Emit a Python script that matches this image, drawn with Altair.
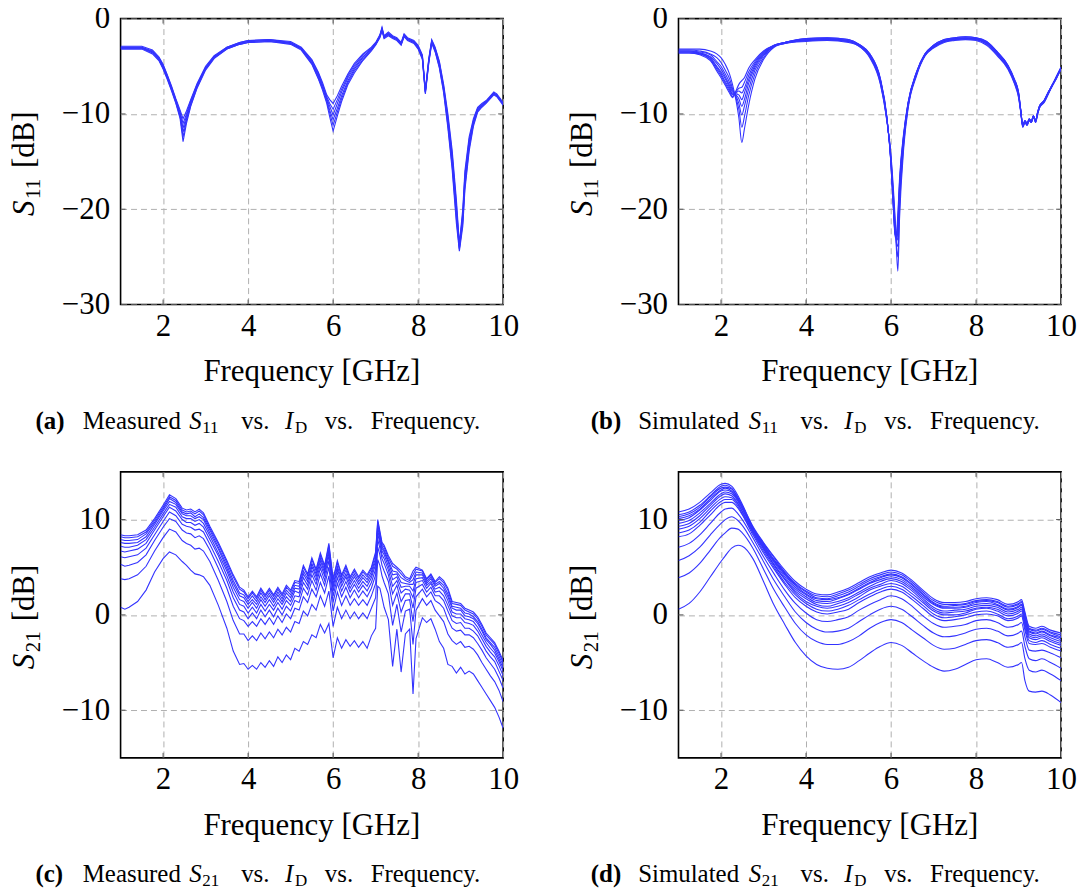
import altair as alt
import pandas as pd

FONT = "Liberation Serif"
BLUE = "#3333ff"
GRID = "#b0b0b0"
TICKC = "#555555"
W, H = 384, 287

# ---------------- data (one row per frequency point, one column per I_D step) ----------------
FREQ_A = [1.0, 1.25, 1.5, 1.75, 1.9, 2.0, 2.1, 2.2, 2.3, 2.4, 2.47, 2.55, 2.65, 2.8, 3.0, 3.2, 3.5, 3.8,
          4.0, 4.5, 5.0, 5.25, 5.5, 5.65, 5.75, 5.85, 5.92, 6.0, 6.1, 6.2, 6.35, 6.5, 6.7, 6.9, 7.0, 7.1,
          7.15, 7.2, 7.3, 7.4, 7.5, 7.6, 7.67, 7.75, 7.9, 8.0, 8.1, 8.17, 8.25, 8.32, 8.4, 8.5, 8.6, 8.7,
          8.8, 8.9, 8.97, 9.05, 9.1, 9.2, 9.3, 9.4, 9.5, 9.6, 9.7, 9.78, 9.85, 9.95, 10.0]
S11_MEAS = [
    [-2.9, -3.0, -3.0, -3.1, -3.1, -3.2], [-2.9, -3.0, -3.0, -3.1, -3.1, -3.2],
    [-2.9, -3.0, -3.0, -3.1, -3.1, -3.2], [-3.3, -3.4, -3.5, -3.5, -3.6, -3.7],
    [-4.0, -4.1, -4.2, -4.2, -4.3, -4.4], [-4.8, -4.9, -5.0, -5.1, -5.2, -5.3],
    [-5.9, -6.0, -6.1, -6.2, -6.3, -6.4], [-7.1, -7.2, -7.3, -7.4, -7.5, -7.6],
    [-8.4, -8.5, -8.6, -8.7, -8.8, -8.9], [-9.6, -9.8, -10.0, -10.1, -10.3, -10.5],
    [-10.5, -11.0, -11.5, -11.9, -12.4, -12.9], [-9.7, -10.0, -10.2, -10.5, -10.7, -11.0],
    [-8.5, -8.6, -8.8, -8.9, -9.1, -9.2], [-6.8, -6.9, -7.0, -7.1, -7.2, -7.3],
    [-5.0, -5.1, -5.2, -5.2, -5.3, -5.4], [-3.9, -4.0, -4.0, -4.1, -4.1, -4.2],
    [-3.0, -3.0, -3.1, -3.1, -3.2, -3.2], [-2.5, -2.5, -2.6, -2.6, -2.7, -2.7],
    [-2.3, -2.3, -2.4, -2.4, -2.5, -2.5], [-2.2, -2.2, -2.3, -2.3, -2.4, -2.4],
    [-2.4, -2.5, -2.5, -2.6, -2.6, -2.7], [-3.0, -3.1, -3.1, -3.2, -3.2, -3.3],
    [-4.3, -4.4, -4.5, -4.6, -4.7, -4.8], [-5.6, -5.7, -5.9, -6.0, -6.2, -6.3],
    [-6.7, -6.9, -7.0, -7.2, -7.3, -7.5], [-8.0, -8.2, -8.4, -8.5, -8.7, -8.9],
    [-8.5, -8.9, -9.2, -9.6, -9.9, -10.3], [-8.9, -9.5, -10.1, -10.6, -11.2, -11.8],
    [-8.1, -8.5, -8.9, -9.4, -9.8, -10.2], [-7.1, -7.4, -7.7, -8.1, -8.4, -8.7],
    [-5.8, -6.0, -6.2, -6.5, -6.7, -6.9], [-4.7, -4.9, -5.1, -5.3, -5.5, -5.7],
    [-3.7, -3.8, -4.0, -4.1, -4.3, -4.4], [-3.0, -3.1, -3.2, -3.2, -3.3, -3.4],
    [-2.5, -2.6, -2.6, -2.7, -2.7, -2.8], [-1.7, -1.8, -1.8, -1.9, -1.9, -2.0],
    [-0.9, -1.0, -1.1, -1.1, -1.2, -1.3], [-1.8, -1.9, -1.9, -2.0, -2.0, -2.1],
    [-1.4, -1.5, -1.6, -1.6, -1.7, -1.8], [-1.8, -1.9, -1.9, -2.0, -2.0, -2.1],
    [-2.0, -2.1, -2.1, -2.2, -2.2, -2.3], [-2.5, -2.6, -2.6, -2.7, -2.7, -2.8],
    [-1.6, -1.7, -1.7, -1.8, -1.8, -1.9], [-2.0, -2.1, -2.1, -2.2, -2.2, -2.3],
    [-2.3, -2.4, -2.4, -2.5, -2.5, -2.6], [-2.8, -2.9, -3.0, -3.0, -3.1, -3.2],
    [-3.8, -3.9, -4.0, -4.1, -4.2, -4.3], [-7.5, -7.6, -7.7, -7.7, -7.8, -7.9],
    [-4.2, -4.3, -4.4, -4.5, -4.6, -4.7], [-2.2, -2.3, -2.4, -2.4, -2.5, -2.6],
    [-3.0, -3.1, -3.2, -3.3, -3.4, -3.5], [-4.5, -4.6, -4.8, -4.9, -5.1, -5.2],
    [-6.9, -7.1, -7.3, -7.4, -7.6, -7.8], [-10.0, -10.3, -10.6, -10.9, -11.2, -11.5],
    [-13.8, -14.2, -14.6, -15.0, -15.4, -15.8], [-19.0, -19.5, -20.0, -20.5, -21.0, -21.5],
    [-23.6, -23.8, -23.9, -24.1, -24.2, -24.4], [-20.0, -20.4, -20.7, -21.1, -21.4, -21.8],
    [-16.0, -16.4, -16.8, -17.2, -17.6, -18.0], [-12.4, -12.7, -13.0, -13.3, -13.6, -13.9],
    [-10.5, -10.7, -10.8, -11.0, -11.1, -11.3], [-9.3, -9.4, -9.5, -9.6, -9.7, -9.8],
    [-8.9, -9.0, -9.1, -9.1, -9.2, -9.3], [-8.6, -8.7, -8.7, -8.8, -8.8, -8.9],
    [-8.1, -8.2, -8.2, -8.3, -8.3, -8.4], [-7.7, -7.8, -7.8, -7.9, -7.9, -8.0],
    [-7.9, -8.0, -8.0, -8.1, -8.1, -8.2], [-8.5, -8.6, -8.6, -8.7, -8.7, -8.8],
    [-8.8, -8.9, -8.9, -9.0, -9.0, -9.1],
]

FREQ_B = [1.0, 1.25, 1.5, 1.75, 1.9, 2.0, 2.1, 2.2, 2.27, 2.35, 2.42, 2.49, 2.55, 2.65, 2.8, 3.0, 3.25,
          3.5, 4.0, 4.5, 5.0, 5.25, 5.5, 5.75, 5.9, 6.0, 6.05, 6.1, 6.13, 6.16, 6.2, 6.3, 6.4, 6.6, 6.8,
          7.0, 7.25, 7.5, 7.75, 8.0, 8.25, 8.5, 8.75, 8.9, 9.0, 9.05, 9.1, 9.15, 9.2, 9.25, 9.3, 9.35,
          9.4, 9.45, 9.5, 9.6, 9.7, 9.8, 9.9, 10.0]
S11_SIM = [
    [-3.6, -3.6, -3.5, -3.5, -3.4, -3.4, -3.3, -3.2], [-3.6, -3.6, -3.5, -3.5, -3.4, -3.4, -3.3, -3.2],
    [-3.8, -3.7, -3.7, -3.6, -3.6, -3.5, -3.4, -3.2], [-4.4, -4.3, -4.2, -4.1, -4.0, -3.8, -3.7, -3.4],
    [-5.5, -5.3, -5.1, -5.0, -4.7, -4.5, -4.1, -3.7], [-6.2, -6.0, -5.8, -5.6, -5.3, -5.0, -4.6, -4.1],
    [-7.0, -6.8, -6.6, -6.3, -6.1, -5.8, -5.4, -4.8], [-7.8, -7.6, -7.4, -7.2, -7.0, -6.7, -6.3, -5.8],
    [-8.3, -8.2, -8.0, -7.9, -7.7, -7.5, -7.3, -6.9], [-7.6, -7.7, -7.8, -7.9, -8.0, -8.1, -8.3, -8.5],
    [-6.9, -7.3, -7.6, -8.0, -8.4, -8.9, -9.5, -10.4], [-6.5, -7.2, -7.8, -8.5, -9.2, -10.1, -11.4, -13.0],
    [-6.2, -6.7, -7.3, -7.8, -8.5, -9.2, -10.3, -11.6], [-5.2, -5.6, -6.0, -6.4, -6.8, -7.4, -8.1, -9.1],
    [-4.3, -4.5, -4.7, -4.9, -5.1, -5.4, -5.8, -6.3], [-3.4, -3.5, -3.6, -3.7, -3.8, -3.9, -4.1, -4.3],
    [-2.8, -2.8, -2.8, -2.9, -2.9, -2.9, -2.9, -3.0], [-2.5, -2.5, -2.5, -2.5, -2.5, -2.6, -2.6, -2.6],
    [-2.1, -2.1, -2.2, -2.2, -2.3, -2.3, -2.3, -2.4], [-2.0, -2.0, -2.1, -2.1, -2.2, -2.2, -2.2, -2.3],
    [-2.2, -2.2, -2.3, -2.3, -2.4, -2.4, -2.4, -2.5], [-2.7, -2.7, -2.7, -2.8, -2.8, -2.8, -2.9, -2.9],
    [-3.7, -3.7, -3.8, -3.8, -3.9, -3.9, -4.0, -4.1], [-6.3, -6.4, -6.4, -6.5, -6.6, -6.6, -6.8, -6.9],
    [-10.2, -10.3, -10.3, -10.4, -10.4, -10.5, -10.6, -10.7], [-15.4, -15.3, -15.2, -15.1, -15.0, -14.8, -14.6, -14.4],
    [-19.6, -19.4, -19.2, -19.0, -18.7, -18.4, -18.0, -17.5], [-23.0, -22.8, -22.7, -22.5, -22.3, -22.0, -21.7, -21.3],
    [-22.5, -22.7, -22.9, -23.1, -23.3, -23.6, -24.0, -24.5], [-20.5, -21.1, -21.7, -22.3, -23.0, -23.9, -25.0, -26.5],
    [-16.8, -17.2, -17.6, -18.1, -18.6, -19.2, -20.0, -21.0], [-11.9, -12.1, -12.2, -12.4, -12.6, -12.8, -13.1, -13.5],
    [-8.8, -8.9, -8.9, -9.0, -9.1, -9.2, -9.3, -9.5], [-5.6, -5.6, -5.7, -5.7, -5.8, -5.8, -5.9, -6.0],
    [-3.7, -3.7, -3.7, -3.8, -3.8, -3.8, -3.9, -3.9], [-2.8, -2.8, -2.9, -2.9, -3.0, -3.0, -3.0, -3.1],
    [-2.2, -2.2, -2.3, -2.3, -2.4, -2.4, -2.4, -2.5], [-2.0, -2.0, -2.1, -2.1, -2.2, -2.2, -2.2, -2.3],
    [-1.9, -1.9, -2.0, -2.0, -2.1, -2.1, -2.1, -2.2], [-2.0, -2.0, -2.1, -2.1, -2.2, -2.2, -2.2, -2.3],
    [-2.4, -2.4, -2.5, -2.5, -2.6, -2.6, -2.7, -2.8], [-3.5, -3.5, -3.6, -3.6, -3.7, -3.7, -3.8, -3.9],
    [-4.9, -4.9, -5.0, -5.0, -5.1, -5.1, -5.2, -5.3], [-6.3, -6.4, -6.4, -6.5, -6.5, -6.6, -6.7, -6.8],
    [-7.7, -7.8, -7.8, -7.9, -8.0, -8.0, -8.2, -8.3], [-9.5, -9.5, -9.6, -9.6, -9.6, -9.7, -9.7, -9.8],
    [-11.2, -11.2, -11.2, -11.3, -11.3, -11.3, -11.4, -11.4], [-10.7, -10.7, -10.7, -10.8, -10.8, -10.8, -10.9, -10.9],
    [-11.0, -11.0, -11.0, -11.1, -11.1, -11.1, -11.2, -11.2], [-10.5, -10.5, -10.5, -10.6, -10.6, -10.6, -10.7, -10.7],
    [-10.8, -10.8, -10.8, -10.8, -10.9, -10.9, -10.9, -10.9], [-10.2, -10.2, -10.2, -10.2, -10.3, -10.3, -10.3, -10.3],
    [-10.7, -10.7, -10.7, -10.8, -10.8, -10.8, -10.9, -10.9], [-9.8, -9.8, -9.8, -9.9, -9.9, -9.9, -10.0, -10.0],
    [-9.1, -9.1, -9.1, -9.2, -9.2, -9.2, -9.3, -9.3], [-8.6, -8.6, -8.6, -8.7, -8.7, -8.7, -8.8, -8.8],
    [-7.7, -7.7, -7.7, -7.8, -7.8, -7.8, -7.9, -7.9], [-6.9, -6.9, -6.9, -6.9, -7.0, -7.0, -7.0, -7.0],
    [-6.0, -6.0, -6.0, -6.1, -6.1, -6.1, -6.2, -6.2], [-5.1, -5.1, -5.1, -5.2, -5.2, -5.2, -5.3, -5.3],
]

FREQ_C = [1.0, 1.1, 1.2, 1.4, 1.6, 1.8, 2.0, 2.15, 2.3, 2.45, 2.55, 2.65, 2.75, 2.85, 2.95, 3.1, 3.3,
          3.5, 3.65, 3.8, 3.9, 4.0, 4.1, 4.2, 4.3, 4.4, 4.5, 4.6, 4.7, 4.8, 4.9, 5.0, 5.1, 5.2, 5.3,
          5.4, 5.5, 5.6, 5.7, 5.8, 5.9, 6.0, 6.1, 6.2, 6.3, 6.4, 6.5, 6.6, 6.7, 6.8, 6.9, 7.0, 7.05,
          7.1, 7.15, 7.2, 7.3, 7.4, 7.5, 7.6, 7.7, 7.8, 7.88, 7.95, 8.1, 8.2, 8.3, 8.4, 8.5, 8.6, 8.7,
          8.8, 8.9, 9.0, 9.1, 9.2, 9.3, 9.4, 9.5, 9.6, 9.7, 9.8, 9.9, 10.0]
S21_MEAS = [
    [8.4, 8.2, 7.9, 7.6, 7.2, 6.7, 6.1, 5.3, 3.8, 0.8], [8.3, 8.1, 7.8, 7.5, 7.1, 6.6, 6.0, 5.1, 3.7, 0.6],
    [8.3, 8.1, 7.8, 7.5, 7.1, 6.7, 6.1, 5.2, 3.8, 0.8], [8.4, 8.2, 7.9, 7.6, 7.3, 6.9, 6.3, 5.5, 4.2, 1.4],
    [8.9, 8.7, 8.5, 8.2, 7.9, 7.5, 7.0, 6.3, 5.1, 2.6], [10.1, 9.9, 9.7, 9.5, 9.2, 8.9, 8.4, 7.8, 6.7, 4.5],
    [11.5, 11.3, 11.1, 10.9, 10.6, 10.3, 9.8, 9.2, 8.1, 5.9], [12.6, 12.4, 12.2, 11.9, 11.6, 11.3, 10.8, 10.1, 9.0, 6.6],
    [12.2, 12.0, 11.8, 11.6, 11.3, 10.9, 10.4, 9.8, 8.7, 6.3], [11.2, 11.0, 10.8, 10.6, 10.3, 10.0, 9.5, 8.9, 7.8, 5.6],
    [11.0, 10.8, 10.6, 10.4, 10.1, 9.7, 9.3, 8.6, 7.5, 5.2], [11.1, 10.9, 10.7, 10.4, 10.1, 9.7, 9.2, 8.5, 7.3, 4.7],
    [10.8, 10.6, 10.3, 10.1, 9.8, 9.4, 8.9, 8.1, 6.9, 4.3], [11.1, 10.9, 10.6, 10.3, 10.0, 9.6, 9.0, 8.3, 7.0, 4.2],
    [10.7, 10.5, 10.2, 10.0, 9.6, 9.2, 8.7, 8.0, 6.7, 4.0], [9.3, 9.1, 8.9, 8.6, 8.3, 7.9, 7.4, 6.8, 5.6, 3.1],
    [7.6, 7.4, 7.1, 6.9, 6.5, 6.2, 5.6, 4.9, 3.6, 1.0], [5.7, 5.5, 5.2, 4.9, 4.6, 4.1, 3.6, 2.8, 1.4, -1.4],
    [4.2, 4.0, 3.6, 3.3, 2.9, 2.4, 1.8, 0.9, -0.6, -3.8], [2.9, 2.7, 2.3, 2.0, 1.6, 1.1, 0.5, -0.4, -2.0, -5.2],
    [2.6, 2.4, 2.1, 1.8, 1.4, 0.9, 0.3, -0.6, -2.0, -5.1], [1.9, 1.7, 1.4, 1.1, 0.7, 0.2, -0.4, -1.2, -2.7, -5.7],
    [2.5, 2.3, 2.0, 1.6, 1.3, 0.8, 0.2, -0.7, -2.2, -5.3], [1.9, 1.7, 1.4, 1.1, 0.7, 0.2, -0.4, -1.2, -2.7, -5.7],
    [2.8, 2.6, 2.3, 1.9, 1.6, 1.1, 0.5, -0.4, -1.9, -5.0], [2.1, 1.9, 1.6, 1.3, 0.9, 0.4, -0.2, -1.0, -2.5, -5.5],
    [2.8, 2.6, 2.3, 2.0, 1.6, 1.1, 0.5, -0.3, -1.8, -4.8], [2.1, 1.9, 1.6, 1.3, 0.9, 0.5, -0.2, -1.0, -2.4, -5.4],
    [2.9, 2.7, 2.4, 2.1, 1.7, 1.3, 0.7, -0.1, -1.5, -4.4], [2.2, 2.0, 1.7, 1.4, 1.1, 0.6, 0.0, -0.8, -2.1, -5.0],
    [3.1, 2.9, 2.6, 2.3, 1.9, 1.5, 0.9, 0.1, -1.3, -4.2], [2.6, 2.4, 2.1, 1.8, 1.4, 1.0, 0.4, -0.4, -1.8, -4.7],
    [3.6, 3.4, 3.1, 2.8, 2.5, 2.0, 1.5, 0.7, -0.7, -3.5], [3.5, 3.3, 3.0, 2.7, 2.3, 1.9, 1.3, 0.5, -0.9, -3.8],
    [5.2, 5.0, 4.6, 4.3, 3.9, 3.4, 2.8, 1.9, 0.4, -2.8], [4.3, 4.1, 3.8, 3.5, 3.1, 2.7, 2.1, 1.3, -0.1, -3.1],
    [6.0, 5.8, 5.4, 5.1, 4.7, 4.2, 3.6, 2.7, 1.1, -2.1], [4.8, 4.6, 4.3, 4.0, 3.6, 3.2, 2.6, 1.9, 0.5, -2.4],
    [6.5, 6.3, 6.0, 5.7, 5.3, 4.9, 4.3, 3.4, 2.0, -1.0], [5.2, 5.0, 4.7, 4.4, 4.1, 3.6, 3.1, 2.3, 0.9, -1.9],
    [7.5, 7.3, 6.9, 6.6, 6.2, 5.7, 5.0, 4.1, 2.5, -0.9], [3.8, 3.6, 3.2, 2.9, 2.5, 2.0, 1.3, 0.4, -1.2, -4.5],
    [5.7, 5.5, 5.1, 4.8, 4.4, 3.9, 3.3, 2.4, 0.8, -2.4], [4.2, 4.0, 3.7, 3.4, 3.0, 2.5, 1.9, 1.0, -0.4, -3.5],
    [5.2, 5.0, 4.7, 4.3, 4.0, 3.5, 2.9, 2.0, 0.5, -2.6], [4.0, 3.8, 3.5, 3.2, 2.8, 2.4, 1.8, 1.0, -0.4, -3.3],
    [4.8, 4.6, 4.3, 4.0, 3.6, 3.2, 2.6, 1.7, 0.3, -2.7], [4.0, 3.8, 3.5, 3.2, 2.8, 2.4, 1.8, 1.0, -0.4, -3.4],
    [4.7, 4.5, 4.2, 3.9, 3.5, 3.1, 2.5, 1.6, 0.2, -2.8], [4.2, 4.0, 3.7, 3.4, 3.0, 2.5, 1.9, 1.0, -0.4, -3.5],
    [5.0, 4.8, 4.5, 4.2, 3.9, 3.4, 2.8, 2.0, 0.7, -2.2], [6.6, 6.4, 6.0, 5.7, 5.3, 4.8, 4.2, 3.3, 1.8, -1.4],
    [10.0, 9.8, 9.5, 9.2, 8.9, 8.5, 7.9, 7.1, 5.8, 3.0], [8.8, 8.6, 8.4, 8.1, 7.8, 7.5, 7.0, 6.3, 5.2, 2.8],
    [7.6, 7.4, 7.2, 7.0, 6.7, 6.3, 5.9, 5.2, 4.1, 1.8], [7.3, 7.1, 6.8, 6.6, 6.3, 5.9, 5.4, 4.6, 3.4, 0.8],
    [6.2, 6.0, 5.7, 5.5, 5.1, 4.7, 4.2, 3.5, 2.2, -0.5], [5.4, 5.1, 4.6, 4.2, 3.7, 3.0, 2.2, 1.0, -1.1, -5.4],
    [5.0, 4.8, 4.5, 4.3, 4.0, 3.6, 3.1, 2.3, 1.1, -1.5], [4.6, 4.3, 3.9, 3.4, 2.9, 2.3, 1.4, 0.3, -1.8, -6.0],
    [4.0, 3.8, 3.6, 3.3, 3.0, 2.7, 2.2, 1.5, 0.4, -2.0], [3.8, 3.6, 3.4, 3.2, 3.0, 2.6, 2.2, 1.6, 0.6, -1.5],
    [4.6, 4.2, 3.7, 3.2, 2.5, 1.8, 0.7, -0.7, -3.1, -8.3], [5.0, 4.8, 4.5, 4.2, 3.8, 3.4, 2.8, 1.9, 0.5, -2.5],
    [4.7, 4.6, 4.4, 4.2, 3.9, 3.6, 3.2, 2.7, 1.7, -0.3], [3.8, 3.7, 3.5, 3.3, 3.1, 2.8, 2.4, 1.9, 1.0, -0.8],
    [4.3, 4.2, 4.0, 3.8, 3.5, 3.3, 2.9, 2.4, 1.5, -0.4], [3.5, 3.4, 3.2, 3.0, 2.7, 2.4, 2.0, 1.5, 0.5, -1.5],
    [4.0, 3.8, 3.5, 3.3, 2.9, 2.5, 2.0, 1.2, -0.1, -2.8], [3.6, 3.4, 3.1, 2.8, 2.5, 2.0, 1.5, 0.7, -0.7, -3.5],
    [2.8, 2.6, 2.2, 1.9, 1.5, 1.0, 0.4, -0.5, -2.0, -5.2], [1.4, 1.2, 0.9, 0.7, 0.3, -0.1, -0.6, -1.4, -2.7, -5.4],
    [1.3, 1.1, 0.8, 0.5, 0.1, -0.3, -0.9, -1.7, -3.1, -6.1], [1.2, 1.0, 0.7, 0.5, 0.1, -0.3, -0.8, -1.6, -2.8, -5.5],
    [0.7, 0.5, 0.2, -0.1, -0.4, -0.8, -1.4, -2.1, -3.4, -6.2], [0.5, 0.3, 0.1, -0.2, -0.5, -0.9, -1.4, -2.1, -3.3, -5.9],
    [0.3, 0.1, -0.2, -0.4, -0.7, -1.1, -1.7, -2.4, -3.6, -6.2], [-0.2, -0.4, -0.7, -0.9, -1.3, -1.7, -2.2, -3.0, -4.2, -6.9],
    [-1.0, -1.2, -1.5, -1.7, -2.1, -2.5, -3.0, -3.7, -5.0, -7.6], [-1.9, -2.1, -2.4, -2.6, -2.9, -3.3, -3.8, -4.5, -5.7, -8.3],
    [-2.4, -2.6, -2.9, -3.1, -3.5, -3.9, -4.4, -5.1, -6.4, -9.0], [-2.9, -3.1, -3.4, -3.7, -4.0, -4.4, -4.9, -5.7, -7.0, -9.7],
    [-3.8, -4.0, -4.3, -4.6, -4.9, -5.3, -5.9, -6.6, -7.9, -10.7], [-4.8, -5.0, -5.3, -5.6, -5.9, -6.4, -6.9, -7.7, -9.1, -11.9],
]

FREQ_D = [1.0, 1.25, 1.5, 1.75, 2.0, 2.1, 2.25, 2.4, 2.5, 2.75, 3.0, 3.25, 3.5, 3.75, 4.0, 4.25, 4.5,
          4.75, 5.0, 5.25, 5.5, 5.75, 6.0, 6.25, 6.5, 6.75, 7.0, 7.25, 7.5, 7.75, 8.0, 8.25, 8.5, 8.75,
          9.0, 9.07, 9.15, 9.25, 9.4, 9.55, 9.75, 10.0]
S21_SIM = [
    [10.8, 10.5, 10.1, 9.6, 9.0, 8.2, 7.1, 5.7, 3.9, 0.6], [11.1, 10.8, 10.4, 9.9, 9.3, 8.5, 7.5, 6.2, 4.4, 1.2],
    [11.8, 11.5, 11.1, 10.7, 10.1, 9.4, 8.4, 7.1, 5.4, 2.4], [12.8, 12.5, 12.2, 11.7, 11.2, 10.5, 9.6, 8.4, 6.8, 4.0],
    [13.7, 13.5, 13.1, 12.7, 12.2, 11.6, 10.8, 9.6, 8.2, 5.6], [13.8, 13.6, 13.3, 12.9, 12.4, 11.8, 11.1, 10.0, 8.6, 6.2],
    [13.5, 13.3, 13.0, 12.7, 12.3, 11.8, 11.2, 10.3, 9.1, 7.0], [12.5, 12.3, 12.1, 11.9, 11.6, 11.2, 10.6, 9.9, 9.0, 7.3],
    [11.6, 11.5, 11.3, 11.1, 10.8, 10.5, 10.0, 9.4, 8.6, 7.2], [9.3, 9.2, 9.1, 8.9, 8.7, 8.4, 8.1, 7.6, 7.0, 5.9],
    [7.6, 7.5, 7.3, 7.1, 6.9, 6.5, 6.1, 5.6, 4.8, 3.5], [6.1, 6.0, 5.7, 5.5, 5.2, 4.8, 4.3, 3.6, 2.6, 1.0],
    [4.7, 4.5, 4.3, 4.0, 3.7, 3.2, 2.6, 1.9, 0.8, -1.0], [3.5, 3.3, 3.1, 2.7, 2.3, 1.8, 1.2, 0.3, -0.9, -2.9],
    [2.7, 2.5, 2.2, 1.9, 1.4, 0.9, 0.2, -0.8, -2.1, -4.3], [2.2, 2.0, 1.7, 1.3, 0.9, 0.3, -0.5, -1.5, -2.8, -5.2],
    [2.1, 1.9, 1.6, 1.2, 0.7, 0.1, -0.7, -1.8, -3.1, -5.6], [2.4, 2.2, 1.8, 1.4, 0.9, 0.3, -0.5, -1.7, -3.1, -5.7],
    [2.8, 2.6, 2.2, 1.8, 1.3, 0.6, -0.2, -1.4, -2.8, -5.5], [3.4, 3.2, 2.8, 2.4, 1.9, 1.3, 0.5, -0.7, -2.2, -4.8],
    [4.0, 3.8, 3.4, 3.0, 2.6, 1.9, 1.1, 0.0, -1.4, -4.0], [4.4, 4.2, 3.9, 3.5, 3.0, 2.4, 1.6, 0.6, -0.8, -3.3],
    [4.7, 4.5, 4.2, 3.8, 3.3, 2.7, 2.0, 0.9, -0.5, -2.9], [4.4, 4.2, 3.9, 3.5, 3.0, 2.4, 1.7, 0.6, -0.8, -3.2],
    [3.6, 3.4, 3.1, 2.7, 2.2, 1.6, 0.9, -0.2, -1.6, -4.0], [2.6, 2.4, 2.1, 1.7, 1.3, 0.7, -0.1, -1.1, -2.4, -4.8],
    [1.7, 1.5, 1.2, 0.8, 0.4, -0.2, -0.9, -1.9, -3.2, -5.5], [1.3, 1.1, 0.8, 0.4, 0.0, -0.6, -1.3, -2.3, -3.6, -5.9],
    [1.3, 1.1, 0.8, 0.5, 0.0, -0.5, -1.2, -2.2, -3.5, -5.7], [1.4, 1.2, 0.9, 0.6, 0.2, -0.3, -1.0, -1.9, -3.1, -5.2],
    [1.7, 1.5, 1.3, 0.9, 0.6, 0.0, -0.6, -1.5, -2.7, -4.7], [1.8, 1.6, 1.4, 1.0, 0.7, 0.1, -0.5, -1.4, -2.6, -4.6],
    [1.6, 1.4, 1.1, 0.8, 0.4, -0.1, -0.8, -1.7, -2.9, -5.0], [1.1, 0.9, 0.6, 0.3, -0.1, -0.6, -1.3, -2.2, -3.4, -5.5],
    [1.4, 1.2, 0.9, 0.6, 0.2, -0.3, -1.0, -1.9, -3.1, -5.2], [1.6, 1.4, 1.1, 0.8, 0.4, -0.1, -0.8, -1.7, -2.9, -5.0],
    [0.3, 0.1, -0.2, -0.6, -1.0, -1.6, -2.3, -3.3, -4.6, -6.9], [-1.2, -1.4, -1.7, -2.0, -2.4, -3.0, -3.7, -4.6, -5.8, -8.0],
    [-1.4, -1.6, -1.9, -2.2, -2.6, -3.1, -3.8, -4.8, -6.0, -8.1], [-1.2, -1.4, -1.7, -2.0, -2.4, -3.0, -3.7, -4.6, -5.8, -8.0],
    [-1.6, -1.8, -2.1, -2.4, -2.8, -3.4, -4.0, -5.0, -6.2, -8.4], [-1.9, -2.1, -2.4, -2.8, -3.2, -3.8, -4.5, -5.6, -6.9, -9.2],
]
# further simulated S21 traces (higher I_D steps, bunched near the top), same frequency points
S21_SIM_MORE = [
    [10.3, 9.9, 9.3, 8.6], [10.6, 10.2, 9.6, 8.9], [11.3, 11.0, 10.4, 9.7], [12.4, 12.0, 11.5, 10.9],
    [13.3, 13.0, 12.5, 11.9], [13.4, 13.1, 12.7, 12.1], [13.2, 12.9, 12.5, 12.1], [12.2, 12.0, 11.7, 11.4],
    [11.4, 11.2, 10.9, 10.6], [9.1, 9.0, 8.8, 8.6], [7.4, 7.2, 7.0, 6.7], [5.8, 5.6, 5.3, 5.0],
    [4.4, 4.2, 3.8, 3.4], [3.2, 2.9, 2.5, 2.1], [2.4, 2.1, 1.7, 1.2], [1.8, 1.5, 1.1, 0.6],
    [1.7, 1.4, 0.9, 0.4], [2.0, 1.7, 1.2, 0.6], [2.4, 2.1, 1.6, 1.0], [3.0, 2.7, 2.2, 1.6],
    [3.6, 3.3, 2.8, 2.2], [4.0, 3.7, 3.2, 2.7], [4.3, 4.0, 3.6, 3.0], [4.0, 3.7, 3.3, 2.7],
    [3.2, 2.9, 2.5, 1.9], [2.2, 1.9, 1.5, 1.0], [1.3, 1.1, 0.6, 0.1], [0.9, 0.7, 0.2, -0.3],
    [1.0, 0.7, 0.3, -0.2], [1.1, 0.8, 0.4, 0.0], [1.4, 1.1, 0.7, 0.3], [1.5, 1.2, 0.8, 0.4],
    [1.3, 1.0, 0.6, 0.1], [0.8, 0.5, 0.1, -0.4], [1.1, 0.8, 0.4, -0.1], [1.3, 1.0, 0.6, 0.1],
    [-0.1, -0.4, -0.8, -1.3], [-1.5, -1.8, -2.2, -2.7], [-1.7, -2.0, -2.4, -2.9], [-1.5, -1.8, -2.2, -2.7],
    [-1.9, -2.2, -2.6, -3.1], [-2.3, -2.6, -3.0, -3.5],
]

X_TICKS = [2, 4, 6, 8, 10]
Y_TICKS_S11 = [-30, -20, -10, 0]
Y_TICKS_S21 = [-10, 0, 10]


def to_long(freqs, rows):
    recs = []
    for f, row in zip(freqs, rows):
        for k, v in enumerate(row):
            recs.append({"f": f, "v": v, "curve": k})
    return pd.DataFrame(recs)


def piece(s, x, y, size=31, style="normal", weight="normal", angle=0, align="left"):
    return alt.Chart(alt.InlineData(values=[{"t": s}])).mark_text(
        font=FONT, fontSize=size, fontStyle=style, fontWeight=weight, angle=angle,
        align=align, baseline="alphabetic", color="black"
    ).encode(text="t:N", x=alt.value(x), y=alt.value(y))


def panel(freqs, rows, ydom, yticks, sub, letter, word, interp, start=0.0, shift=0.0):
    xs = alt.Scale(domain=[1, 10], nice=False, zero=False)
    ys = alt.Scale(domain=ydom, nice=False, zero=False)
    common = dict(title=None, grid=True, gridDash=[6, 4], gridColor=GRID, gridWidth=1,
                  domain=False, ticks=False, tickSize=0, labelFont=FONT, labelFontSize=31,
                  labelColor="black", labelFlush=False, labelOverlap=False)
    xax = alt.Axis(values=X_TICKS, labelPadding=31, labelBaseline="alphabetic", **common)
    yax = alt.Axis(values=yticks, labelPadding=11, **common)
    X = alt.X("f:Q", scale=xs, axis=xax)
    Y = alt.Y("v:Q", scale=ys, axis=yax)

    lines = alt.Chart(to_long(freqs, rows)).mark_line(
        color=BLUE, strokeWidth=1.1, interpolate=interp, clip=True
    ).encode(x=X, y=Y, detail="curve:N")

    xt = pd.DataFrame({"f": X_TICKS[:-1]})
    yt = pd.DataFrame({"v": [t for t in yticks if ydom[0] < t < ydom[1]]})
    tk = dict(color=TICKC, strokeWidth=1)
    ticks = [
        alt.Chart(xt).mark_rule(**tk).encode(x=X, y=alt.value(0), y2=alt.value(5)),
        alt.Chart(xt).mark_rule(**tk).encode(x=X, y=alt.value(H), y2=alt.value(H - 5)),
        alt.Chart(yt).mark_rule(**tk).encode(y=Y, x=alt.value(0), x2=alt.value(5)),
        alt.Chart(yt).mark_rule(**tk).encode(y=Y, x=alt.value(W), x2=alt.value(W - 5)),
    ]

    # y title: S_xx [dB] (rotated)
    ytitle = [
        piece("S", -86.5, 198, style="italic", angle=270),
        piece(sub, -81, 181, size=21, angle=270),
        piece("[dB]", -86.5, 150, angle=270),
    ]
    xtitle = [piece("Frequency [GHz]", W / 2, H + 77, align="center")]

    cy = H + 125
    s = start + shift
    cap = [
        piece("(" + letter + ")", -85.5 + start, cy, size=25, weight="bold"),
        piece(word, -38 + start, cy, size=25),
        piece("S", 69 + s, cy, size=25, style="italic"),
        piece(sub, 82 + s, cy + 4, size=17),
        piece("vs.", 121 + s, cy, size=25),
        piece("I", 165 + s, cy, size=25, style="italic"),
        piece("D", 175 + s, cy + 4, size=17),
        piece("vs.", 205 + s, cy, size=25),
        piece("Frequency.", 251 + s, cy, size=25),
    ]
    return alt.layer(lines, *ticks, *ytitle, *xtitle, *cap).properties(width=W, height=H)


S21_SIM_ALL = [r + m for r, m in zip(S21_SIM, S21_SIM_MORE)]

pa = panel(FREQ_A, S11_MEAS, [-30, 0], Y_TICKS_S11, "11", "a", "Measured", "linear")
pb = panel(FREQ_B, S11_SIM, [-30, 0], Y_TICKS_S11, "11", "b", "Simulated", "monotone", start=-2.5, shift=4)
pc = panel(FREQ_C, S21_MEAS, [-15, 15], Y_TICKS_S21, "21", "c", "Measured", "linear")
pd_ = panel(FREQ_D, S21_SIM_ALL, [-15, 15], Y_TICKS_S21, "21", "d", "Simulated", "monotone", start=-2.5, shift=4)

top = alt.hconcat(pa, pb, spacing=176, bounds="flush")
bottom = alt.hconcat(pc, pd_, spacing=176, bounds="flush")
chart = alt.vconcat(top, bottom, spacing=33).properties(
    padding={"left": 0, "top": -8, "right": 0, "bottom": 0}
).configure_view(stroke="black", strokeWidth=1.6)

chart.save("out.html", embed_options={"renderer": "svg", "actions": False})
